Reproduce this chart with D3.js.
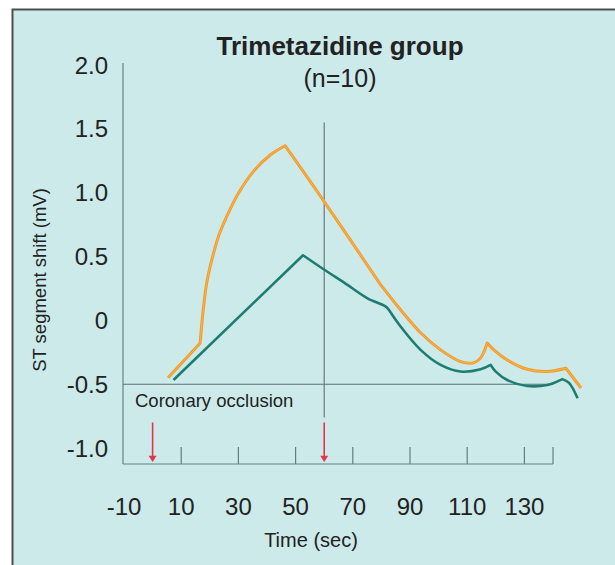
<!DOCTYPE html>
<html><head><meta charset="utf-8">
<script src="https://cdn.jsdelivr.net/npm/d3@7"></script>
<style>html,body{margin:0;padding:0;background:#fff;overflow:hidden}</style>
</head><body>
<script>
// ---- data ----
const titleText = "Trimetazidine group";
const subtitleText = "(n=10)";
const yLabel = "ST segment shift (mV)";
const xLabel = "Time (sec)";
const annotationText = "Coronary occlusion";

const yTickValues = [2, 1.5, 1, 0.5, 0, -0.5, -1];
const yTickLabels = ["2.0", "1.5", "1.0", "0.5", "0", "-0.5", "-1.0"];
const xLabelValues = [-10, 10, 30, 50, 70, 90, 110, 130];
const xTickMarks = [10, 30, 50, 70, 90, 110, 130, 140];
const arrowTimes = [0, 60];
const markerTime = 60;
const referenceLevel = -0.5;

const orangeTime = [5.4, 16.6, 17.7, 18.9, 20.7, 23.0, 25.9, 30.0, 35.2, 41.1, 46.3, 60, 79.7, 86.7, 93.7, 100.7, 107.7, 112.4, 114.7, 117, 119.3, 124, 131, 138, 144.5, 149.8];
const orangeValue = [-0.45, -0.18, 0.081, 0.29, 0.473, 0.655, 0.812, 0.995, 1.165, 1.295, 1.368, 0.93, 0.28, 0.083, -0.097, -0.231, -0.323, -0.331, -0.294, -0.178, -0.231, -0.31, -0.383, -0.401, -0.375, -0.53];
const orangeCorners = [16.6, 46.3, 79.7, 117, 144.5];

const tealTime = [7.3, 52.6, 59.8, 68, 75, 81.4, 82.6, 86.7, 93.7, 100.7, 107.7, 114.7, 118.2, 120, 124, 131, 138, 143.3, 145.6, 148.6];
const tealValue = [-0.467, 0.51, 0.40, 0.28, 0.175, 0.11, 0.083, -0.048, -0.231, -0.349, -0.401, -0.383, -0.349, -0.401, -0.467, -0.514, -0.506, -0.46, -0.49, -0.61];
const tealCorners = [52.6, 82.6, 118.2, 143.3];

// ---- drawing ----
const W = 615, H = 565;
const font = "'Liberation Sans', Arial, Helvetica, sans-serif";
const svg = d3.select("body").append("svg").attr("width", W).attr("height", H)
  .style("font-family", font);

svg.append("rect").attr("x", 0).attr("y", 0).attr("width", W).attr("height", H).attr("fill", "#ffffff");
svg.append("rect").attr("x", 12.5).attr("y", 9.5).attr("width", W + 20).attr("height", H + 20)
  .attr("fill", "#cdeaea").attr("stroke", "#4d4d4d").attr("stroke-width", 2);

const x = d3.scaleLinear().domain([-10, 140]).range([124, 553]);
const y = d3.scaleLinear().domain([-1.125, 2]).range([464, 65]);

const axisColor = "#6b7f86";
const textColor = "#222";

// y axis line
svg.append("line").attr("x1", 123).attr("x2", 123).attr("y1", y(2) - 2).attr("y2", y.range()[0])
  .attr("stroke", axisColor).attr("stroke-width", 1.2);
// x axis line
svg.append("line").attr("x1", 123).attr("x2", x(140)).attr("y1", y.range()[0]).attr("y2", y.range()[0])
  .attr("stroke", axisColor).attr("stroke-width", 1.2);

// tick marks on bottom axis
svg.append("g").selectAll("line").data(xTickMarks).join("line")
  .attr("x1", d => x(d)).attr("x2", d => x(d))
  .attr("y1", y.range()[0]).attr("y2", y.range()[0] - 17)
  .attr("stroke", "#5d8080").attr("stroke-width", 1.2);

// y tick labels
svg.append("g").selectAll("text").data(yTickValues).join("text")
  .attr("x", 108).attr("y", d => y(d)).attr("dy", "0.36em")
  .attr("text-anchor", "end").attr("font-size", 24).attr("fill", textColor)
  .text((d, i) => yTickLabels[i]);

// x tick labels
svg.append("g").selectAll("text").data(xLabelValues).join("text")
  .attr("x", d => x(d)).attr("y", 515)
  .attr("text-anchor", "middle").attr("font-size", 24).attr("fill", textColor)
  .text(d => String(d));

// reference horizontal line at -0.5
svg.append("line").attr("x1", 123).attr("x2", x(140)).attr("y1", y(referenceLevel)).attr("y2", y(referenceLevel))
  .attr("stroke", "#5f6f78").attr("stroke-width", 1.1);

// vertical marker at 60 s
svg.append("line").attr("x1", x(markerTime)).attr("x2", x(markerTime))
  .attr("y1", y(1.55)).attr("y2", y(-0.76))
  .attr("stroke", "#6a7888").attr("stroke-width", 1.2);

// red arrows
const arrows = svg.append("g");
arrowTimes.forEach(t => {
  const ax = x(t);
  arrows.append("line").attr("x1", ax).attr("x2", ax).attr("y1", y(-0.8)).attr("y2", y(-1.07))
    .attr("stroke", "#e5344a").attr("stroke-width", 1.6);
  arrows.append("path")
    .attr("d", `M${ax - 4},${y(-1.06)} L${ax + 4},${y(-1.06)} L${ax},${y(-1.11)} Z`)
    .attr("fill", "#e5344a");
});

// curves: smooth pieces joined at sharp corners
const line = d3.line().x(d => x(d[0])).y(d => y(d[1])).curve(d3.curveCatmullRom.alpha(0.5));
function piecewisePath(times, values, corners) {
  const pts = times.map((t, i) => [t, values[i]]);
  const pieces = [];
  let cur = [];
  pts.forEach(p => {
    cur.push(p);
    if (corners.includes(p[0])) { pieces.push(cur); cur = [p]; }
  });
  if (cur.length > 1) pieces.push(cur);
  return pieces.map((pc, i) => {
    const d = line(pc);
    return i === 0 ? d : d.replace(/^M[^A-Za-z]*/, "");
  }).join("");
}

svg.append("path").attr("d", piecewisePath(tealTime, tealValue, tealCorners)).attr("fill", "none")
  .attr("stroke", "#1e7d70").attr("stroke-width", 2.6).attr("stroke-linejoin", "round");
const orangeD = piecewisePath(orangeTime, orangeValue, orangeCorners);
svg.append("path").attr("d", orangeD).attr("fill", "none")
  .attr("stroke", "#f29a2e").attr("stroke-width", 3).attr("stroke-linejoin", "round");
svg.append("path").attr("d", orangeD).attr("fill", "none")
  .attr("stroke", "#f7b84a").attr("stroke-width", 1).attr("stroke-linejoin", "round");

// texts
svg.append("text").attr("x", 340).attr("y", 55).attr("text-anchor", "middle")
  .attr("font-size", 26).attr("font-weight", "bold").attr("fill", textColor).text(titleText);
svg.append("text").attr("x", 340).attr("y", 87).attr("text-anchor", "middle")
  .attr("font-size", 25).attr("fill", textColor).text(subtitleText);

svg.append("text").attr("transform", `translate(46,${280}) rotate(-90)`)
  .attr("text-anchor", "middle").attr("font-size", 18.5).attr("fill", textColor).text(yLabel);

svg.append("text").attr("x", 311).attr("y", 547).attr("text-anchor", "middle")
  .attr("font-size", 20).attr("fill", textColor).text(xLabel);

svg.append("text").attr("x", 135).attr("y", 407).attr("text-anchor", "start")
  .attr("font-size", 18.5).attr("fill", textColor).text(annotationText);
</script>
</body></html>
